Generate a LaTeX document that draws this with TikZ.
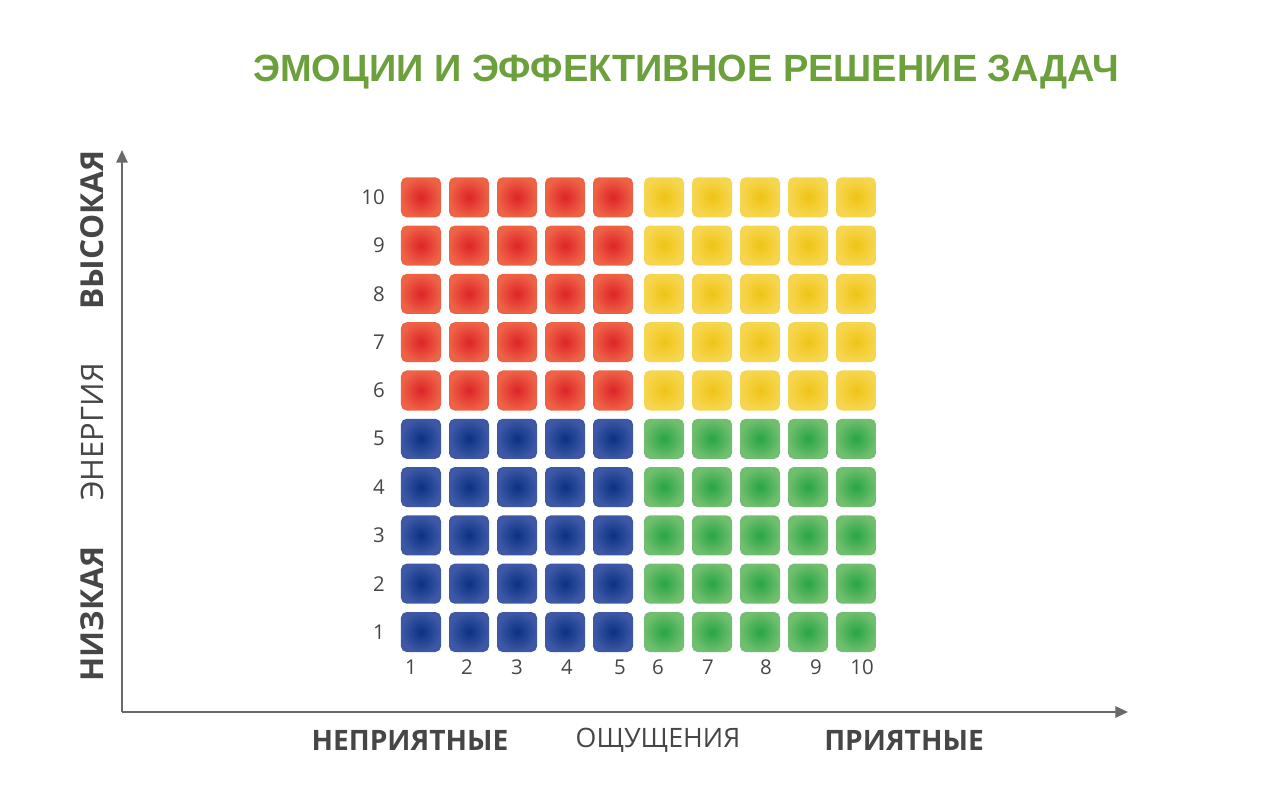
\documentclass[tikz,border=0pt]{standalone}
\usepackage{fontspec}
\setmainfont{Open Sans}
\newfontfamily\titlefont{Liberation Sans}
\usetikzlibrary{arrows.meta, positioning}
\definecolor{titlecolor}{RGB}{108, 160, 60}
\definecolor{axiscolor}{RGB}{105, 105, 105}
\definecolor{labelcolor}{RGB}{70, 70, 70}
\definecolor{redout}{RGB}{238, 98, 70}
\definecolor{redin}{RGB}{222, 36, 40}
\definecolor{yellowout}{RGB}{246, 214, 80}
\definecolor{yellowin}{RGB}{240, 196, 20}
\definecolor{blueout}{RGB}{62, 88, 166}
\definecolor{bluein}{RGB}{10, 50, 130}
\definecolor{greenout}{RGB}{112, 190, 110}
\definecolor{greenin}{RGB}{40, 165, 70}
\tikzset{
  cell/.style={
    rectangle, rounded corners=4pt,
    minimum size=1cm, inner sep=0pt,
    shading=radial
  },
  redcell/.style={cell, inner color=redin, outer color=redout},
  yellowcell/.style={cell, inner color=yellowin, outer color=yellowout},
  bluecell/.style={cell, inner color=bluein, outer color=blueout},
  greencell/.style={cell, inner color=greenin, outer color=greenout},
  numlabel/.style={
    font=\fontsize{14.5}{16}\selectfont, text=labelcolor, inner sep=0pt
  },
  axislabel/.style={
    font=\fontsize{19}{21}\selectfont, text=labelcolor, inner sep=0pt
  },
  boldlabel/.style={
    axislabel, font=\fontsize{20}{22}\selectfont\bfseries
  },
  sidelabel/.style={
    axislabel, rotate=90, font=\fontsize{22}{24}\selectfont
  },
  sidebold/.style={
    sidelabel, font=\fontsize{22.5}{24}\selectfont\bfseries
  },
  axis/.style={
    -{Triangle[length=9pt, width=8pt]}, line width=1.5pt, color=axiscolor
  }
}

\begin{document}
\begin{tikzpicture}[x=0.025cm, y=-0.025cm]
  \useasboundingbox (0,0) rectangle (1276,789);

  % title
  \node[font=\titlefont\fontsize{27}{31}\selectfont\bfseries, text=titlecolor]
    (title) at (686,72) {ЭМОЦИИ И ЭФФЕКТИВНОЕ РЕШЕНИЕ ЗАДАЧ};

  % axes
  \coordinate (origin) at (122,712);
  \coordinate (ytip) at (122,150);
  \coordinate (xtip) at (1128,712);
  \draw[axis] (origin) -- (ytip);
  \draw[axis] (origin) -- (xtip);

  % grid of cells
  \foreach \c in {1,...,5} {
    \foreach \r in {1,...,5}
      \node[bluecell] (cell-\c-\r) at ({421+(\c-1)*48},{632-(\r-1)*48.3}) {};
    \foreach \r in {6,...,10}
      \node[redcell] (cell-\c-\r) at ({421+(\c-1)*48},{632-(\r-1)*48.3}) {};
  }
  \foreach \c in {6,...,10} {
    \foreach \r in {1,...,5}
      \node[greencell] (cell-\c-\r) at ({424+(\c-1)*48},{632-(\r-1)*48.3}) {};
    \foreach \r in {6,...,10}
      \node[yellowcell] (cell-\c-\r) at ({424+(\c-1)*48},{632-(\r-1)*48.3}) {};
  }

  % row and column numbers
  \foreach \r in {1,...,10}
    \node[numlabel, anchor=east] (row-\r) at ({385},{632-(\r-1)*48.3}) {\r};
  \foreach \c/\xx in {1/411, 2/467, 3/517, 4/567, 5/620, 6/658, 7/708, 8/766, 9/816, 10/862}
    \node[numlabel] (col-\c) at (\xx,667) {\c};

  % axis labels
  \node[boldlabel] (unpleasant) at (410,740) {НЕПРИЯТНЫЕ};
  \node[axislabel] (feeling) at (658,740) {ОЩУЩЕНИЯ};
  \node[boldlabel] (pleasant) at (904,740) {ПРИЯТНЫЕ};
  \node[sidebold] (high) at (92,230) {ВЫСОКАЯ};
  \node[sidelabel] (energy) at (92,432) {ЭНЕРГИЯ};
  \node[sidebold] (low) at (92,614) {НИЗКАЯ};

\end{tikzpicture}
\end{document}
